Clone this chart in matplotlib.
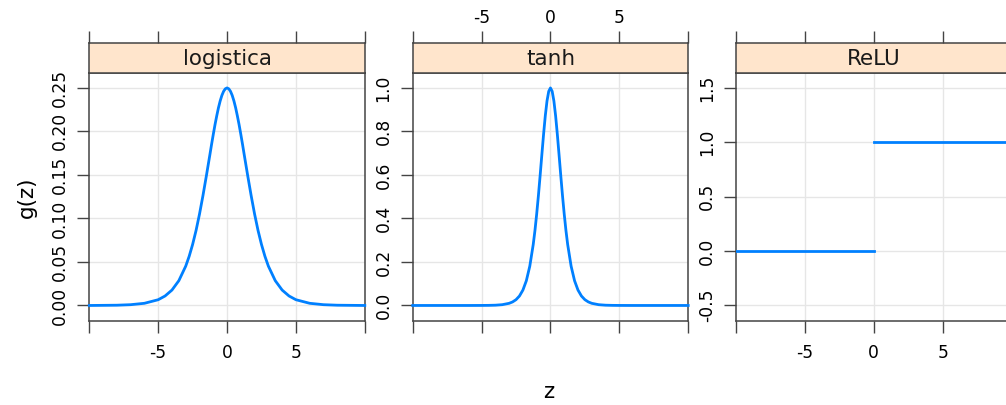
import matplotlib
matplotlib.use("Agg")
import matplotlib.pyplot as plt

plt.rcParams['font.family'] = ['DejaVu Sans']

# =========================================================
# Data (derivatives of activations)
# =========================================================
z = [-10, -8, -7, -6, -5, -4.5, -4, -3.5, -3, -2.75, -2.5, -2.25, -2,
     -1.75, -1.5, -1.25, -1.125, -1, -0.875, -0.75, -0.625, -0.5, -0.375,
     -0.25, -0.125, 0, 0.125, 0.25, 0.375, 0.5, 0.625, 0.75, 0.875, 1,
     1.125, 1.25, 1.5, 1.75, 2, 2.25, 2.5, 2.75, 3, 3.5, 4, 4.5, 5, 6, 7,
     8, 10]
g_logistica = [0.0, 0.0003, 0.0009, 0.0025, 0.0066, 0.0109, 0.0177, 0.0285,
               0.0452, 0.0565, 0.0701, 0.0862, 0.1050, 0.1262, 0.1491,
               0.1729, 0.1850, 0.1966, 0.2077, 0.2178, 0.2271, 0.2350,
               0.2414, 0.2461, 0.2490, 0.2500, 0.2490, 0.2461, 0.2414,
               0.2350, 0.2271, 0.2178, 0.2077, 0.1966, 0.1850, 0.1729,
               0.1491, 0.1262, 0.1050, 0.0862, 0.0701, 0.0565, 0.0452,
               0.0285, 0.0177, 0.0109, 0.0066, 0.0025, 0.0009, 0.0003, 0.0]
g_tanh = [0.0, 0.0, 0.0, 0.0, 0.0002, 0.0005, 0.0013, 0.0036, 0.0099, 0.0163,
          0.0266, 0.0435, 0.0707, 0.1138, 0.1807, 0.2804, 0.3446, 0.4200,
          0.5045, 0.5966, 0.6924, 0.7864, 0.8716, 0.9400, 0.9845, 1.0,
          0.9845, 0.9400, 0.8716, 0.7864, 0.6924, 0.5966, 0.5045, 0.4200,
          0.3446, 0.2804, 0.1807, 0.1138, 0.0707, 0.0435, 0.0266, 0.0163,
          0.0099, 0.0036, 0.0013, 0.0005, 0.0002, 0.0, 0.0, 0.0, 0.0]
relu_z_neg = [-10, 0]
relu_g_neg = [0, 0]
relu_z_pos = [0, 10]
relu_g_pos = [1, 1]

panel_names = ["logistica", "tanh", "ReLU"]
y_ticks = [[0.00, 0.05, 0.10, 0.15, 0.20, 0.25],
           [0.0, 0.2, 0.4, 0.6, 0.8, 1.0],
           [-0.5, 0.0, 0.5, 1.0, 1.5]]
y_ticklabels = [["0.00", "0.05", "0.10", "0.15", "0.20", "0.25"],
                ["0.0", "0.2", "0.4", "0.6", "0.8", "1.0"],
                ["-0.5", "0.0", "0.5", "1.0", "1.5"]]
y_limits = [(-0.0175, 0.2675), (-0.07, 1.07), (-0.64, 1.64)]
x_ticks = [-10, -5, 0, 5, 10]
x_ticklabels = ["", "-5", "0", "5", ""]

# =========================================================
# Layout (lattice style: panel + strip on top)
# =========================================================
W, H = 1006, 405
fig = plt.figure(figsize=(W / 100, H / 100), dpi=100)

lefts = [89.3, 412.7, 736.0]
pw = 275.5
p_top, p_bot = 72.7, 320.7
s_top = 43.3
frame_col = "#444444"
grid_col = "#e6e6e6"
line_col = "#0080ff"
tick_fs = 12.3
label_fs = 15.5

for i, name in enumerate(panel_names):
    ax = fig.add_axes([lefts[i] / W, (H - p_bot) / H, pw / W, (p_bot - p_top) / H])
    st = fig.add_axes([lefts[i] / W, (H - p_top) / H, pw / W, (p_top - s_top) / H])

    if i == 0:
        ax.plot(z, g_logistica, color=line_col, lw=2, zorder=3, clip_on=False)
    elif i == 1:
        ax.plot(z, g_tanh, color=line_col, lw=2, zorder=3, clip_on=False)
    else:
        ax.plot(relu_z_neg, relu_g_neg, color=line_col, lw=2, zorder=3)
        ax.plot(relu_z_pos, relu_g_pos, color=line_col, lw=2, zorder=3)

    ax.set_xlim(-10, 10)
    ax.set_ylim(*y_limits[i])
    ax.set_yticks(y_ticks[i])
    ax.set_yticklabels(y_ticklabels[i], rotation=90, va="center")
    ax.set_xticks(x_ticks)
    for v in x_ticks[1:-1]:
        ax.axvline(v, color=grid_col, lw=1, zorder=0)
    for v in y_ticks[i]:
        ax.axhline(v, color=grid_col, lw=1, zorder=0)

    # bottom ticks on panels 1 and 3, top ticks on panel 2 (alternating)
    if i == 1:
        ax.set_xticklabels([])
        ax.tick_params(axis="x", bottom=True, length=8.5, width=1, color=frame_col)
    else:
        ax.set_xticklabels(x_ticklabels)
        ax.tick_params(axis="x", bottom=True, length=8.5, width=1, color=frame_col,
                       labelsize=tick_fs, pad=8)
    ax.tick_params(axis="y", left=True, length=8.5, width=1, color=frame_col,
                   labelsize=tick_fs, pad=6)
    for sp in ax.spines.values():
        sp.set_color(frame_col)
        sp.set_linewidth(1.1)

    # strip
    st.set_facecolor("#ffe5cc")
    st.set_xlim(-10, 10)
    st.set_ylim(0, 1)
    st.set_yticks([])
    st.xaxis.tick_top()
    st.set_xticks(x_ticks)
    if i == 1:
        st.set_xticklabels(x_ticklabels)
    else:
        st.set_xticklabels([])
    st.tick_params(axis="x", top=True, bottom=False, length=8.5, width=1,
                   color=frame_col, labelsize=tick_fs, pad=3)
    for sp in st.spines.values():
        sp.set_color(frame_col)
        sp.set_linewidth(1.1)
    st.text(0, 0.45, name, ha="center", va="center", fontsize=label_fs, color="#1a1a1a")

fig.text(27 / W, 1 - 197 / H, "g(z)", rotation=90, ha="center", va="center",
         fontsize=label_fs)
fig.text(549 / W, 1 - 392 / H, "z", ha="center", va="center", fontsize=label_fs)

fig.savefig("out.png", dpi=100)
